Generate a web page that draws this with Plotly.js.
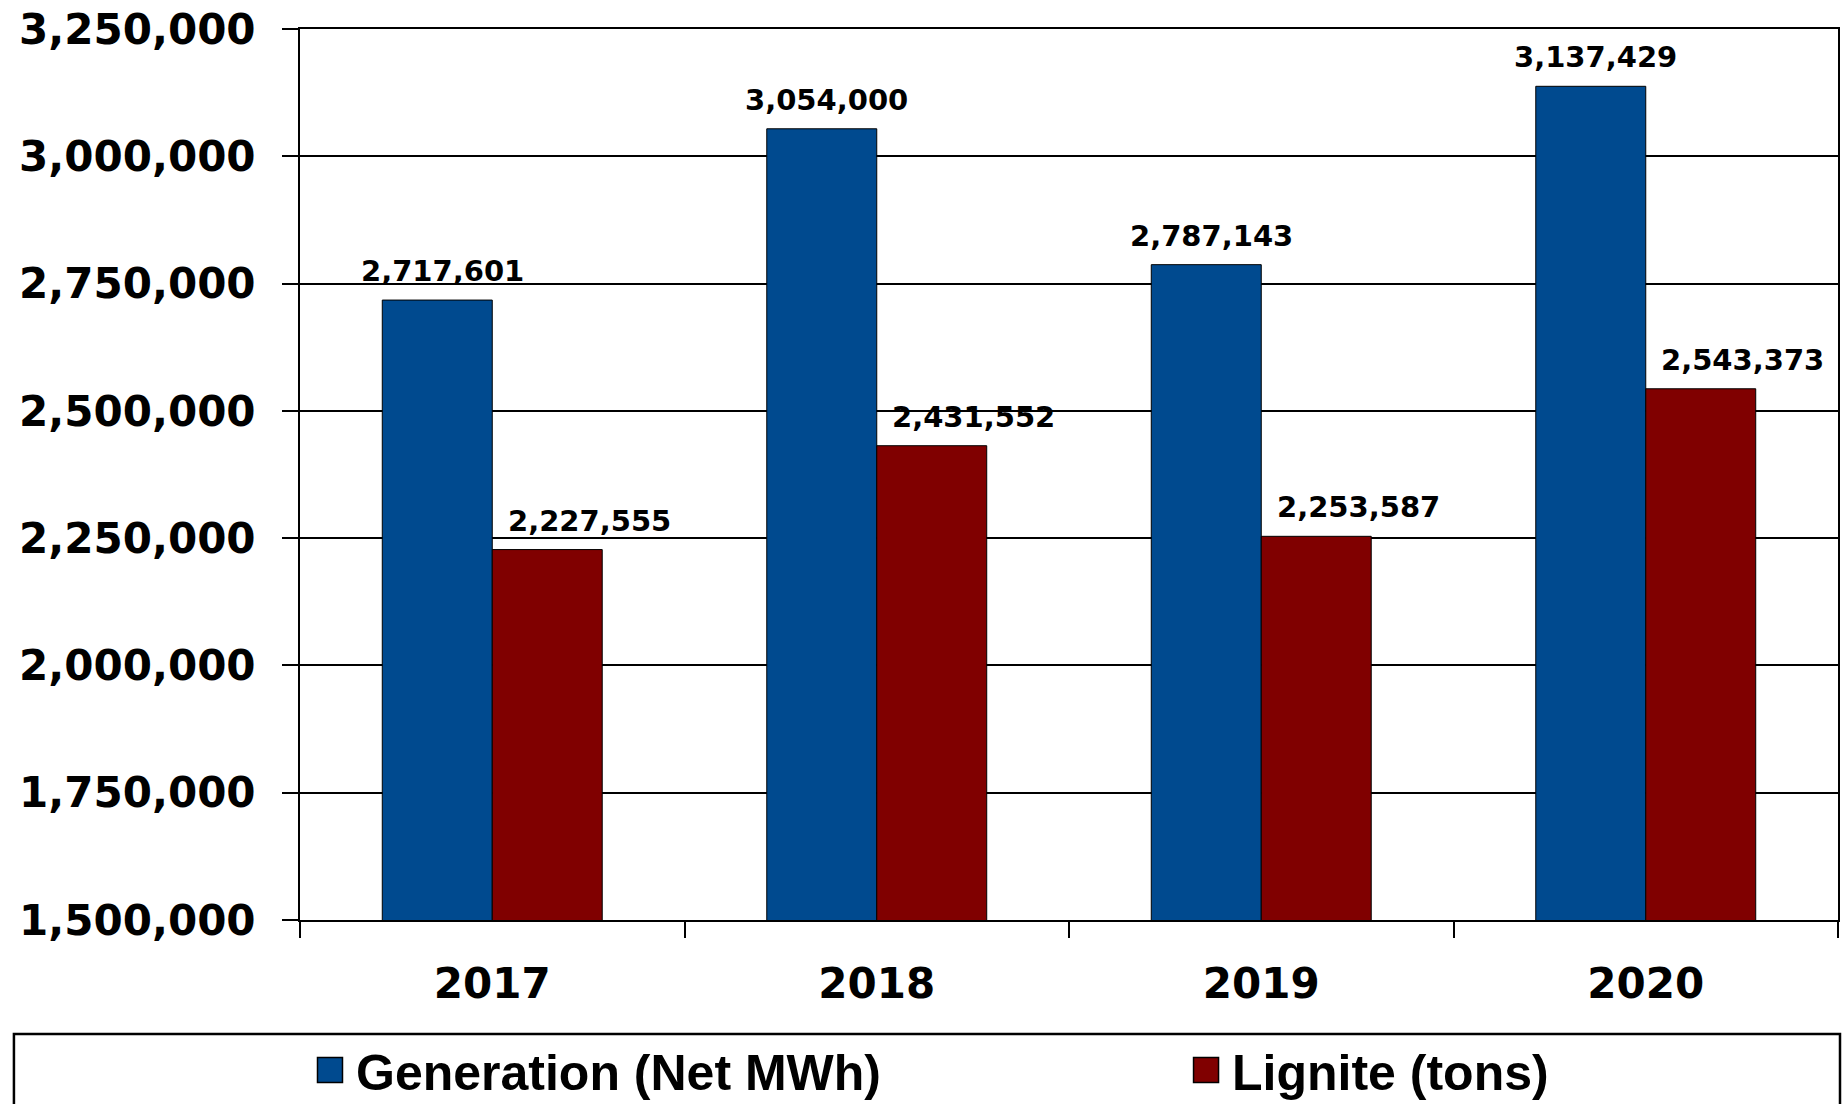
<!DOCTYPE html>
<html>
<head>
<meta charset="utf-8">
<script src="https://cdn.plot.ly/plotly-3.0.1.min.js"></script>
<style>html,body{margin:0;padding:0;background:#fff;}#chart{width:1844px;height:1104px;}</style>
</head>
<body>
<div id="chart"></div>
<script>
// ---- data ----
const years = ['2017', '2018', '2019', '2020'];
const generation = [2717601, 3054000, 2787143, 3137429];
const lignite = [2227555, 2431552, 2253587, 2543373];
const seriesNames = ['Generation (Net MWh)', 'Lignite (tons)'];
const yTickValues = [1500000, 1750000, 2000000, 2250000, 2500000, 2750000, 3000000, 3250000];

// ---- styles ----
const BLUE = '#004A8F';
const RED = '#800000';
const AXIS_FONT = {family: 'DejaVu Sans', size: 42, color: '#000', weight: 'bold'};
const LABEL_FONT = {family: 'DejaVu Sans', size: 29, color: '#000', weight: 'bold'};
const LEGEND_FONT = {family: 'Liberation Sans', size: 50, color: '#000', weight: 'bold'};

const traces = [
  {type: 'bar', name: seriesNames[0], x: years, y: generation, legend: 'legend',
   marker: {color: BLUE, line: {color: '#000', width: 1}}, hoverinfo: 'skip'},
  {type: 'bar', name: seriesNames[1], x: years, y: lignite, legend: 'legend2',
   marker: {color: RED, line: {color: '#000', width: 1}}, hoverinfo: 'skip'}
];

const fmt = v => v.toLocaleString('en-US');
const annotations = [];
years.forEach((yr, i) => {
  // category axis: annotation x uses the category index
  annotations.push({x: i, y: generation[i], xref: 'x', yref: 'y', text: fmt(generation[i]),
    showarrow: false, xanchor: 'center', yanchor: 'bottom', xshift: -50, yshift: 10, font: LABEL_FONT});
  annotations.push({x: i, y: lignite[i], xref: 'x', yref: 'y', text: fmt(lignite[i]),
    showarrow: false, xanchor: 'center', yanchor: 'bottom', xshift: 97, yshift: 10, font: LABEL_FONT});
});

const legendBase = {orientation: 'h', xanchor: 'left', y: -0.1684, yanchor: 'middle',
  font: LEGEND_FONT, bgcolor: 'rgba(0,0,0,0)', borderwidth: 0,
  itemclick: false, itemdoubleclick: false};

const layout = {
  width: 1844, height: 1104,
  margin: {l: 300, r: 6, t: 29, b: 184, autoexpand: false},
  paper_bgcolor: '#fff', plot_bgcolor: '#fff',
  barmode: 'group', bargap: 0.428, bargroupgap: 0,
  showlegend: true,
  legend: Object.assign({}, legendBase, {x: 0.0104}),
  legend2: Object.assign({}, legendBase, {x: 0.580}),
  xaxis: {type: 'category', range: [-0.5, years.length - 0.5], autorange: false,
    showline: true, linecolor: '#000', linewidth: 2, mirror: true,
    ticks: 'outside', tickson: 'boundaries', ticklen: 16, tickwidth: 2, tickcolor: '#000',
    showgrid: false, tickfont: AXIS_FONT, tickangle: 0, ticklabelstandoff: 26, fixedrange: true},
  yaxis: {range: [1500000, 3250000], autorange: false, tickvals: yTickValues, tickformat: ',d',
    showline: true, linecolor: '#000', linewidth: 2, mirror: true,
    ticks: 'outside', ticklen: 16, tickwidth: 2, tickcolor: '#000',
    showgrid: true, gridcolor: '#000', gridwidth: 2, zeroline: false,
    tickfont: AXIS_FONT, ticklabelstandoff: 18, fixedrange: true},
  annotations: annotations,
  shapes: [{type: 'rect', xref: 'paper', yref: 'paper', x0: -0.186, x1: 1.0013, y0: -0.128, y1: -0.3,
    line: {color: '#000', width: 2.5}, fillcolor: 'rgba(0,0,0,0)', layer: 'above'}]
};

Plotly.newPlot('chart', traces, layout, {displayModeBar: false, staticPlot: true}).then(gd => {
  // enlarge the legend swatches (25px squares like the reference), kept inside the legend clip
  gd.querySelectorAll('.legendpoints path').forEach(p => {
    p.setAttribute('d', 'M12.5,12.5H-12.5V-12.5H12.5Z');
    p.setAttribute('transform', 'translate(14,0)');
    p.style.strokeWidth = '1.5px';
    p.style.stroke = '#000';
  });
});
</script>
</body>
</html>
